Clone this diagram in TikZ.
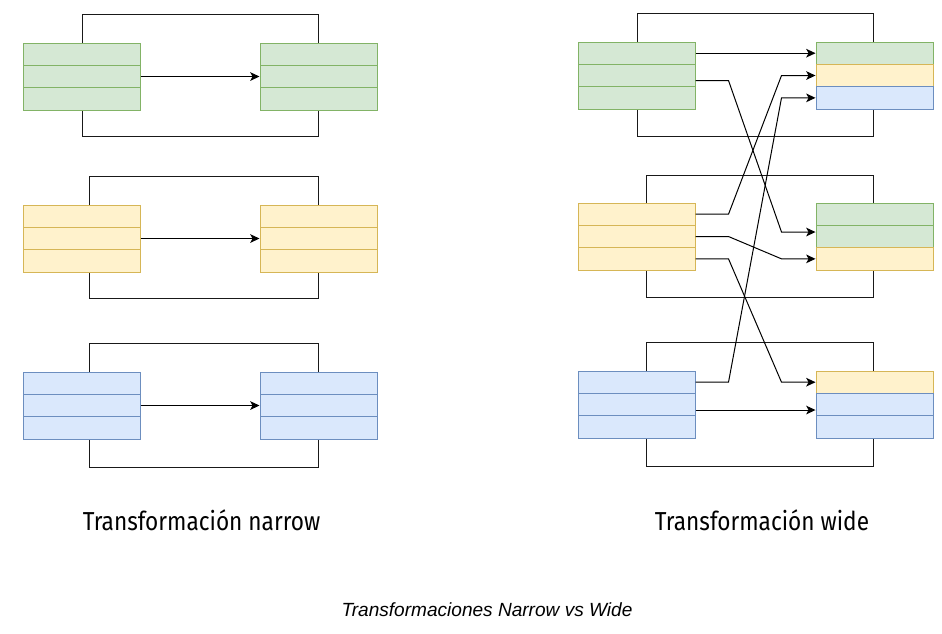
\documentclass[tikz,border=0pt]{standalone}
\usepackage{fontspec}
\usetikzlibrary{arrows.meta,calc}
\newfontfamily\titlefont[FakeStretch=0.87]{Fira Sans}
\newfontfamily\captionfont{Liberation Sans}
\definecolor{gfill}{HTML}{D5E8D4}
\definecolor{gline}{HTML}{82B366}
\definecolor{yfill}{HTML}{FFF2CC}
\definecolor{yline}{HTML}{D6B656}
\definecolor{bfill}{HTML}{DAE8FC}
\definecolor{bline}{HTML}{6C8EBF}
\tikzset{
  cell/.style={draw=#1line, fill=#1fill, line width=0.75pt, inner sep=0pt, minimum width=87.75pt, minimum height=16.75pt},
  frame/.style={draw=black!90, line width=0.75pt},
  flow/.style={draw=black, line width=0.75pt, -{Stealth[length=7pt,width=6.5pt,inset=1.8pt]}},
}
\begin{document}
\begin{tikzpicture}[x=0.75pt,y=0.75pt,yscale=-1,xscale=1]
\useasboundingbox (0,0) rectangle (942,634);
\draw[frame] (82,15) rectangle (318,137);
\draw[frame] (89,177) rectangle (318,299);
\draw[frame] (89,344) rectangle (318,467);
\draw[frame] (637,14) rectangle (873,137);
\draw[frame] (646,176) rectangle (873,298);
\draw[frame] (646,343) rectangle (873,466);
\foreach \g/\ya/\yb in {g/54.2/53.2, y/216.2/214.2, b/383.2/382.2} {
  \foreach \r in {1,2,3} {
    \node[cell=\g] (ns-\g-\r) at (81.5,{\ya+22.33*(\r-1)}) {};
    \node[cell=\g] (nt-\g-\r) at (318.5,{\ya+22.33*(\r-1)}) {};
    \node[cell=\g] (ws-\g-\r) at (636.5,{\yb+22.33*(\r-1)}) {};
  }
  \draw[flow] (ns-\g-2) -- (nt-\g-2);
}
\foreach \t/\yt/\ca/\cb/\cc in {1/53.2/g/y/b, 2/214.2/g/g/y, 3/382.2/y/b/b} {
  \node[cell=\ca] (wt-\t-1) at (874.5,\yt) {};
  \node[cell=\cb] (wt-\t-2) at (874.5,{\yt+22.33}) {};
  \node[cell=\cc] (wt-\t-3) at (874.5,{\yt+44.66}) {};
}
\draw[flow] (ws-g-1) -- (wt-1-1);
\draw[flow] ($(ws-g-2.east)+(0,5)$) -- ++(33,0) -- ($(wt-2-2.west)+(-34,-4.5)$) -- ($(wt-2-2.west)+(0,-4.5)$);
\draw[flow] (ws-y-1.east) -- ++(33,0) -- ($(wt-1-2.west)+(-34,0)$) -- (wt-1-2.west);
\draw[flow] (ws-y-2.east) -- ++(33,0) -- ($(wt-2-3.west)+(-34,0)$) -- (wt-2-3.west);
\draw[flow] (ws-y-3.east) -- ++(33,0) -- ($(wt-3-1.west)+(-34,0)$) -- (wt-3-1.west);
\draw[flow] (ws-b-1.east) -- ++(33,0) -- ($(wt-1-3.west)+(-34,0)$) -- (wt-1-3.west);
\draw[flow] ($(ws-b-2.east)+(0,5.5)$) -- ($(wt-3-2.west)+(0,5.5)$);
\node[font=\titlefont\fontsize{19.5}{22}\selectfont, anchor=base, inner sep=0pt] (narrow-title) at (201.5,530) {Transformación narrow};
\node[font=\titlefont\fontsize{19.5}{22}\selectfont, anchor=base, inner sep=0pt] (wide-title) at (762,530) {Transformación wide};
\node[font=\captionfont\itshape\fontsize{14.3}{17}\selectfont, anchor=base, inner sep=0pt] (caption) at (487,616) {Transformaciones Narrow vs Wide};
\end{tikzpicture}
\end{document}
